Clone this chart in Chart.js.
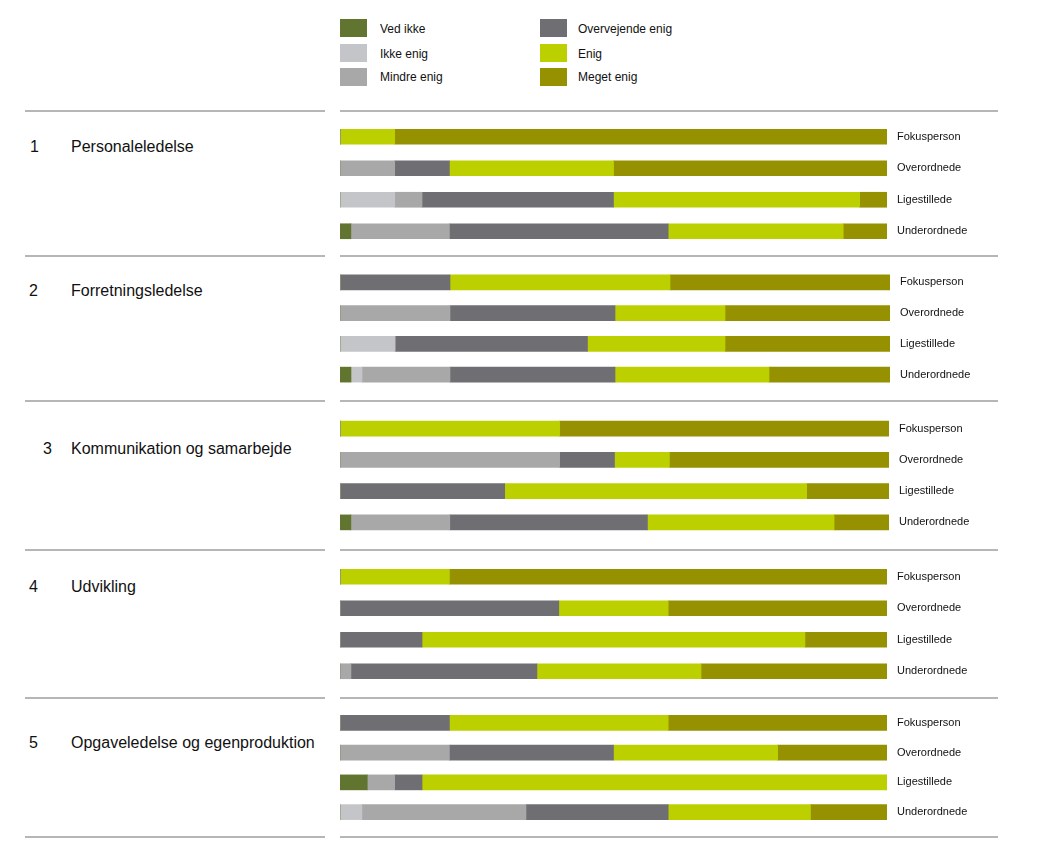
<!DOCTYPE html>
<html lang="da">
<head>
<meta charset="utf-8">
<title>Vurdering af lederkompetencer</title>
<script src="https://cdn.jsdelivr.net/npm/chart.js"></script>
<style>
  body { margin: 0; background: #fff; font-family: "Liberation Sans", Arial, sans-serif; color: #111; }
  #page { position: relative; width: 1040px; height: 861px; overflow: hidden; }
  .sep { position: absolute; height: 2px; background: #b6b6b9; }
  .swatch { position: absolute; width: 27px; height: 18px; }
  .legend-text { position: absolute; font-size: 12px; line-height: 14px; white-space: nowrap; }
  .group-text { position: absolute; font-size: 16px; line-height: 20px; white-space: nowrap; }
  canvas { position: absolute; }
</style>
</head>
<body>
<div id="page"></div>
<script>
  // Categories
  const groupNames = ['Personaleledelse', 'Forretningsledelse', 'Kommunikation og samarbejde', 'Udvikling', 'Opgaveledelse og egenproduktion'];
  const respondents = ['Fokusperson', 'Overordnede', 'Ligestillede', 'Underordnede'];

  // Answer shares in % (4 respondent rows per group, groups 1-5 in order)
  const vedIkke         = [0, 0, 0, 2,    0, 0, 0, 2,    0, 0, 0, 2,    0, 0, 0, 0,    0, 0, 5, 0];
  const ikkeEnig        = [0, 0, 10, 0,   0, 0, 10, 2,   0, 0, 0, 0,    0, 0, 0, 0,    0, 0, 0, 4];
  const mindreEnig      = [0, 10, 5, 18,  0, 20, 0, 16,  0, 40, 0, 18,  0, 0, 0, 2,    0, 20, 5, 30];
  const overvejendeEnig = [0, 10, 35, 40, 20, 30, 35, 30, 0, 10, 30, 36, 0, 40, 15, 34, 20, 30, 5, 26];
  const enig            = [10, 30, 45, 32, 40, 20, 25, 28, 40, 10, 55, 34, 20, 20, 70, 30, 40, 30, 85, 26];
  const megetEnig       = [90, 50, 5, 8,  40, 30, 30, 22, 60, 40, 15, 10, 80, 40, 15, 34, 40, 20, 0, 14];

  const seriesNames = ['Ved ikke', 'Ikke enig', 'Mindre enig', 'Overvejende enig', 'Enig', 'Meget enig'];
  const seriesData = [vedIkke, ikkeEnig, mindreEnig, overvejendeEnig, enig, megetEnig];
  const seriesColors = ['#617430', '#c4c5c8', '#a8a8a9', '#6f6e73', '#bcd000', '#959100'];

  // Page layout (pixels)
  const separatorsY = [110, 255, 400, 549, 697, 836];
  const groupLayout = [
    { top: 120.5, height: 126, barEnd: 887, labelY: 147, noX: 30 },
    { top: 266.5, height: 123, barEnd: 890, labelY: 291, noX: 29 },
    { top: 413,   height: 125, barEnd: 889, labelY: 449, noX: 43 },
    { top: 560.5, height: 126, barEnd: 887, labelY: 587, noX: 29 },
    { top: 708,   height: 119, barEnd: 887, labelY: 743, noX: 29 }
  ];
  const barLeft = 340;
  const axisWidth = 110;

  const page = document.getElementById('page');

  function addDiv(cls, css, text) {
    const el = document.createElement('div');
    el.className = cls;
    Object.assign(el.style, css);
    if (text !== undefined) el.textContent = text;
    page.appendChild(el);
    return el;
  }

  // Legend in two columns
  function buildLegend() {
    const swatchTops = [19, 44, 68];
    const textTops = [22, 47, 70];
    seriesNames.forEach((name, i) => {
      const col = Math.floor(i / 3);
      const row = i % 3;
      addDiv('swatch', { left: (col ? 540 : 340) + 'px', top: swatchTops[row] + 'px', background: seriesColors[i] });
      addDiv('legend-text', { left: (col ? 578 : 380) + 'px', top: textTops[row] + 'px' }, name);
    });
  }

  // Grey rules between groups
  function buildSeparators() {
    separatorsY.forEach(y => {
      addDiv('sep', { left: '25px', width: '300px', top: y + 'px' });
      addDiv('sep', { left: '340px', width: '658px', top: y + 'px' });
    });
  }

  function buildGroup(g) {
    const lay = groupLayout[g];
    addDiv('group-text', { left: lay.noX + 'px', top: (lay.labelY - 10) + 'px' }, String(g + 1));
    addDiv('group-text', { left: '71px', top: (lay.labelY - 10) + 'px' }, groupNames[g]);

    const canvas = document.createElement('canvas');
    const width = lay.barEnd - barLeft + axisWidth;
    canvas.width = width;
    canvas.height = lay.height;
    canvas.style.left = barLeft + 'px';
    canvas.style.top = lay.top + 'px';
    canvas.style.width = width + 'px';
    canvas.style.height = lay.height + 'px';
    page.appendChild(canvas);

    const start = g * respondents.length;
    const end = start + respondents.length;

    new Chart(canvas.getContext('2d'), {
      type: 'bar',
      data: {
        labels: respondents,
        datasets: seriesNames.map((name, i) => ({
          label: name,
          data: seriesData[i].slice(start, end),
          backgroundColor: seriesColors[i],
          borderWidth: 0,
          barThickness: 15
        }))
      },
      options: {
        indexAxis: 'y',
        responsive: false,
        animation: false,
        devicePixelRatio: 1,
        layout: { padding: 0 },
        plugins: {
          legend: { display: false },
          tooltip: { enabled: false }
        },
        scales: {
          x: { stacked: true, min: 0, max: 100, display: false },
          y: {
            stacked: true,
            position: 'right',
            grid: { display: false, drawTicks: false },
            border: { display: false },
            ticks: {
              color: '#111',
              padding: 10,
              font: { family: 'Liberation Sans', size: 11 }
            },
            // fixed label column, and no extra room above/below the rows
            afterFit: scale => {
              scale.width = axisWidth;
              scale.paddingTop = 0;
              scale.paddingBottom = 0;
            }
          }
        }
      }
    });
  }

  buildLegend();
  buildSeparators();
  groupNames.forEach((_, g) => buildGroup(g));
</script>
</body>
</html>
